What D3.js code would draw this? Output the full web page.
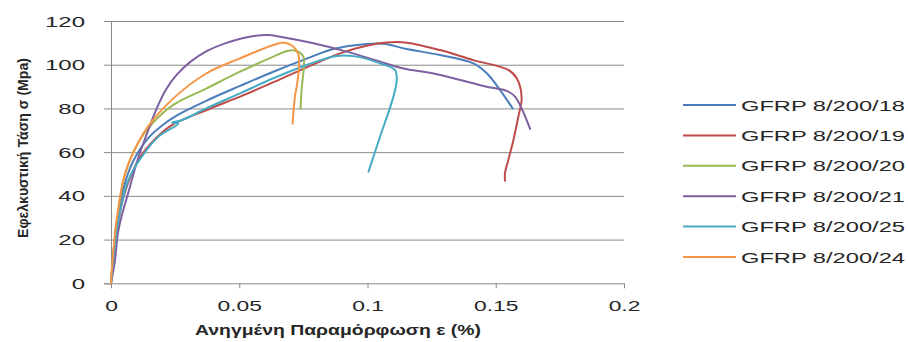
<!DOCTYPE html>
<html>
<head>
<meta charset="utf-8">
<script src="https://cdn.jsdelivr.net/npm/d3@7"></script>
<style>
  html, body { margin: 0; padding: 0; background: #fff; }
  svg { display: block; }
  text { font-family: "Liberation Sans", Arial, sans-serif; fill: #262626; }
</style>
</head>
<body>
<svg id="chart" width="908" height="342"></svg>
<script>
// Tensile tests of GFRP bars: stress (MPa) against strain (%)
const seriesNames = ["GFRP 8/200/18", "GFRP 8/200/19", "GFRP 8/200/20", "GFRP 8/200/21", "GFRP 8/200/25", "GFRP 8/200/24"];
const seriesColors = ["#4A7EBB", "#BE4B48", "#98B954", "#7D60A0", "#46AAC5", "#F69546"];

const xTicks = [0, 0.05, 0.1, 0.15, 0.2];
const xTickLabels = ["0", "0.05", "0.1", "0.15", "0.2"];
const yTicks = [0, 20, 40, 60, 80, 100, 120];
const yTickLabels = ["0", "20", "40", "60", "80", "100", "120"];

const xTitle = "Ανηγμένη Παραμόρφωση ε (%)";
const yTitle = "Εφελκυστική Τάση σ (Mpa)";

// [strain %, stress MPa]
const gfrp18 = [[0,0],[0.002,25],[0.005,44],[0.0085,55.5],[0.0146,66.5],[0.0211,73.2],[0.0273,77.8],[0.0373,83.6],[0.0503,90.3],[0.0633,96.8],[0.0763,102.8],[0.0867,107.2],[0.0997,109.5],[0.1062,109.6],[0.1153,107.2],[0.1283,104.4],[0.1413,100.6],[0.1465,96.1],[0.1517,88.4],[0.1566,80]];
const gfrp19 = [[0,0],[0.002,22],[0.005,40],[0.0107,56.4],[0.0172,66],[0.0237,72.4],[0.0373,79.3],[0.0503,85.4],[0.0633,92],[0.0763,98.8],[0.0893,105.2],[0.1,108.8],[0.1075,110.2],[0.1153,110.1],[0.1283,106.7],[0.1413,102.1],[0.1549,97.6],[0.1582,93.8],[0.1601,84.6],[0.1588,76.2],[0.1569,65.6],[0.1549,56.4],[0.1536,50.3],[0.1536,46.9]];
const gfrp20 = [[0,0],[0.001,15],[0.003,35],[0.0055,50],[0.0107,64.5],[0.016,73],[0.0243,81.6],[0.0373,89.2],[0.0503,96.8],[0.0633,103.7],[0.069,106.4],[0.0725,106.2],[0.075,103.7],[0.0752,99.1],[0.0744,89.9],[0.0739,80]];
const gfrp21 = [[0,0],[0.0015,10],[0.0029,24.4],[0.0074,44.2],[0.0105,57],[0.0145,70],[0.018,80.5],[0.0215,88.8],[0.0255,95.2],[0.0308,101.2],[0.0373,106.2],[0.045,110],[0.0525,112.5],[0.0612,113.6],[0.0659,112.8],[0.0789,109.8],[0.0919,106],[0.1049,101.4],[0.114,98.3],[0.1244,96.3],[0.1335,93.8],[0.1465,89.9],[0.1543,88],[0.1575,85.4],[0.1634,70.6]];
const gfrp25 = [[0,0],[0.001,12],[0.0029,29],[0.0068,47.3],[0.012,57.9],[0.0185,67.1],[0.0262,73.1],[0.0238,73.6],[0.0275,74.6],[0.0373,80.1],[0.0503,86.9],[0.0633,93.8],[0.0763,99.9],[0.088,104],[0.0958,103.7],[0.1049,100.6],[0.1107,97.6],[0.1114,93],[0.1101,85.4],[0.1049,67.1],[0.1004,51.1]];
const gfrp24 = [[0,0],[0.0003,6],[0.0022,29],[0.0055,50.3],[0.0107,64.5],[0.0146,72],[0.0243,84.6],[0.0373,96.1],[0.0503,102.9],[0.0633,109],[0.0675,110.1],[0.0708,108.6],[0.073,105],[0.0733,99.1],[0.0724,89.9],[0.0717,85.4],[0.0708,73]];

const seriesData = [gfrp18, gfrp19, gfrp20, gfrp21, gfrp25, gfrp24];

const svg = d3.select("#chart");
const plot = { left: 111, right: 624, top: 21, bottom: 283.3 };
const gridColor = "#8a8a8a";

const x = d3.scaleLinear().domain([0, 0.2]).range([plot.left, plot.right]);
const y = d3.scaleLinear().domain([0, 120]).range([plot.bottom, plot.top]);

// widen a text horizontally so that its rendered width equals `target`
function stretchTo(textSel, target) {
  textSel.each(function () {
    const w = this.getComputedTextLength();
    const k = target / w;
    const t = d3.select(this);
    const x0 = +t.attr("x") || 0;
    t.attr("x", x0 / k).attr("transform", `scale(${k},1)`);
  });
}
function measure(sample, fontSize, weight) {
  const t = svg.append("text").attr("font-size", fontSize).attr("font-weight", weight).text(sample);
  const w = t.node().getComputedTextLength();
  t.remove();
  return w;
}

// y axis with horizontal gridlines
const yAxis = d3.axisLeft(y).tickValues(yTicks).tickFormat((d, i) => yTickLabels[i]).tickSize(7).tickPadding(0);
const gy = svg.append("g").attr("transform", `translate(${plot.left},0)`).call(yAxis);
gy.select(".domain").attr("stroke", gridColor);
gy.selectAll(".tick line").attr("stroke", gridColor);
gy.selectAll(".tick").filter(d => d > 0).append("line")
  .attr("x1", 0).attr("x2", plot.right - plot.left)
  .attr("stroke", gridColor).attr("stroke-width", 1);
const yk = 40 / measure("120", 14, "normal");
gy.selectAll(".tick text")
  .attr("font-size", 14).attr("font-family", null).attr("fill", "#262626")
  .attr("dy", "0.36em")
  .attr("x", -26 / yk).attr("transform", `scale(${yk},1)`);

// x axis
const xAxis = d3.axisBottom(x).tickValues(xTicks).tickFormat((d, i) => xTickLabels[i]).tickSize(5).tickSizeOuter(0);
const gx = svg.append("g").attr("transform", `translate(0,${plot.bottom})`).call(xAxis);
gx.select(".domain").attr("stroke", gridColor);
gx.selectAll(".tick line").attr("stroke", gridColor);
const xk = 44.5 / measure("0.05", 14, "normal");
gx.selectAll(".tick text")
  .attr("font-size", 14).attr("font-family", null).attr("fill", "#262626")
  .attr("y", 28).attr("dy", 0)
  .attr("x", 0)
  .attr("transform", `scale(${xk},1)`);

// stress-strain curves
const line = d3.line()
  .x(d => x(d[0]))
  .y(d => y(d[1]))
  .curve(d3.curveCatmullRom.alpha(0.5));

svg.append("g").selectAll("path")
  .data(seriesData)
  .join("path")
  .attr("d", line)
  .attr("fill", "none")
  .attr("stroke", (d, i) => seriesColors[i])
  .attr("stroke-width", 2)
  .attr("stroke-linejoin", "round")
  .attr("stroke-linecap", "round");

// axis titles
const xt = svg.append("text")
  .attr("font-size", 15).attr("font-weight", "bold")
  .attr("text-anchor", "middle")
  .attr("x", 338).attr("y", 335)
  .text(xTitle);
stretchTo(xt, 286);

svg.append("text")
  .attr("font-size", 15).attr("font-weight", "bold")
  .attr("text-anchor", "middle")
  .attr("transform", "translate(23,148) rotate(-90)")
  .attr("dy", "0.35em")
  .attr("textLength", 180).attr("lengthAdjust", "spacingAndGlyphs")
  .text(yTitle);

// legend
const legendY = d3.scaleLinear().domain([0, 5]).range([105, 257]);
const lk = 164 / measure(seriesNames[0], 15.5, "normal");
const legend = svg.append("g").selectAll("g")
  .data(seriesNames)
  .join("g")
  .attr("transform", (d, i) => `translate(0,${legendY(i)})`);
legend.append("line")
  .attr("x1", 683).attr("x2", 736)
  .attr("stroke", (d, i) => seriesColors[i])
  .attr("stroke-width", 2);
legend.append("text")
  .attr("font-size", 15.5)
  .attr("x", 741 / lk).attr("dy", "0.36em")
  .attr("transform", `scale(${lk},1)`)
  .text(d => d);
</script>
</body>
</html>
